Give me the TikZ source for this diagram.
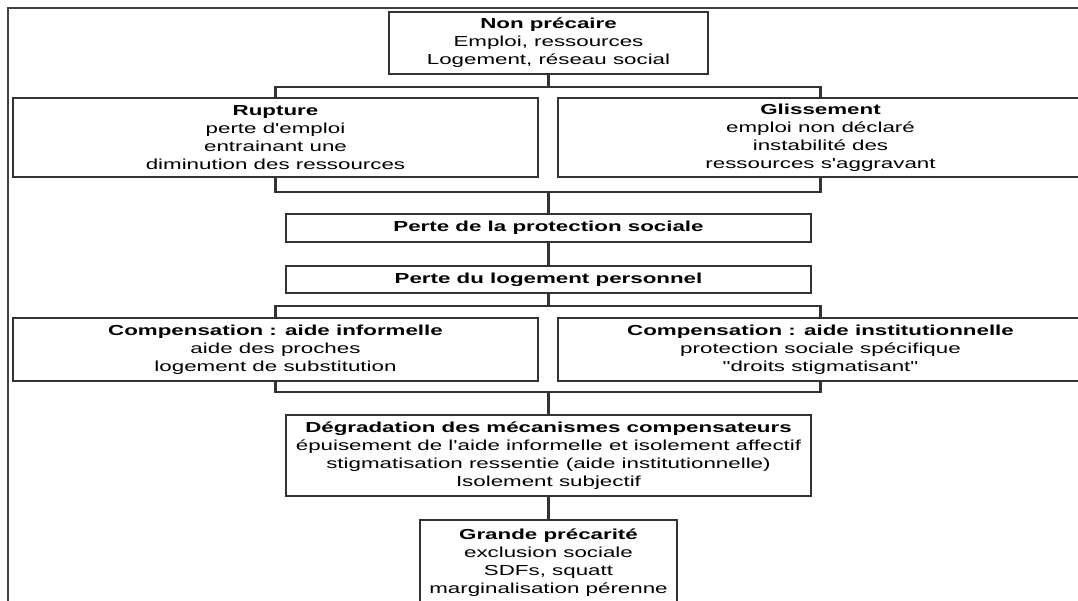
\documentclass[tikz,border=0pt]{standalone}
\usepackage{fontspec}
\setmainfont[FakeStretch=1.54, Ligatures=TeXOff]{Liberation Sans}
\begin{document}
\begin{tikzpicture}[x=1pt,y=-1pt,
  font=\fontsize{14.5}{18}\selectfont,
  box/.style={draw=black!80, line width=2.1pt, inner sep=0pt, align=center, text=black},
  conn/.style={draw=black!80, line width=2.1pt},
  frame/.style={draw=black!75, line width=2.3pt}]
\useasboundingbox (0,0) rectangle (1078,601);
% outer frame
\draw[frame] (1078,8.3) -- (8,8.3) -- (8,601);
% nodes
\node[box, minimum width=319pt, minimum height=62pt] (np) at (548.5,43)
  {\textbf{Non précaire}\\Emploi, ressources\\Logement, réseau social};
\node[box, minimum width=525pt, minimum height=79pt] (rup) at (275.5,137.5)
  {\textbf{Rupture}\\perte d'emploi\\entrainant une\\diminution des ressources};
\node[box, minimum width=525pt, minimum height=79pt] (gli) at (820.5,137.5)
  {\textbf{Glissement}\\emploi non déclaré\\instabilité des\\ressources s'aggravant};
\node[box, minimum width=525pt, minimum height=28pt] (pp) at (548.5,228)
  {\textbf{Perte de la protection sociale}};
\node[box, minimum width=525pt, minimum height=27pt] (pl) at (548.5,279.5)
  {\textbf{Perte du logement personnel}};
\node[box, minimum width=525pt, minimum height=63pt] (ci) at (275.5,349.5)
  {\textbf{Compensation : aide informelle}\\aide des proches\\logement de substitution};
\node[box, minimum width=525pt, minimum height=63pt] (cinst) at (820.5,349.5)
  {\textbf{Compensation : aide institutionnelle}\\protection sociale spécifique\\"droits stigmatisant"};
\node[box, minimum width=525pt, minimum height=81pt] (deg) at (548.5,455.5)
  {\textbf{Dégradation des mécanismes compensateurs}\\épuisement de l'aide informelle et isolement affectif\\stigmatisation ressentie (aide institutionnelle)\\Isolement subjectif};
\node[box, minimum width=257pt, minimum height=86pt] (gp) at (548.5,563)
  {\textbf{Grande précarité}\\exclusion sociale\\SDFs, squatt\\marginalisation pérenne};
% bus junctions
\coordinate (b1) at (548.5,87);
\coordinate (b2) at (548.5,192);
\coordinate (b3) at (548.5,306);
\coordinate (b4) at (548.5,392);
% connectors
\draw[conn] (np.south) -- (b1);
\draw[conn] (rup.north) |- (b1) -| (gli.north);
\draw[conn] (rup.south) |- (b2) -| (gli.south);
\draw[conn] (b2) -- (pp.north);
\draw[conn] (pp.south) -- (pl.north);
\draw[conn] (pl.south) -- (b3);
\draw[conn] (ci.north) |- (b3) -| (cinst.north);
\draw[conn] (ci.south) |- (b4) -| (cinst.south);
\draw[conn] (b4) -- (deg.north);
\draw[conn] (deg.south) -- (gp.north);
\end{tikzpicture}
\end{document}
